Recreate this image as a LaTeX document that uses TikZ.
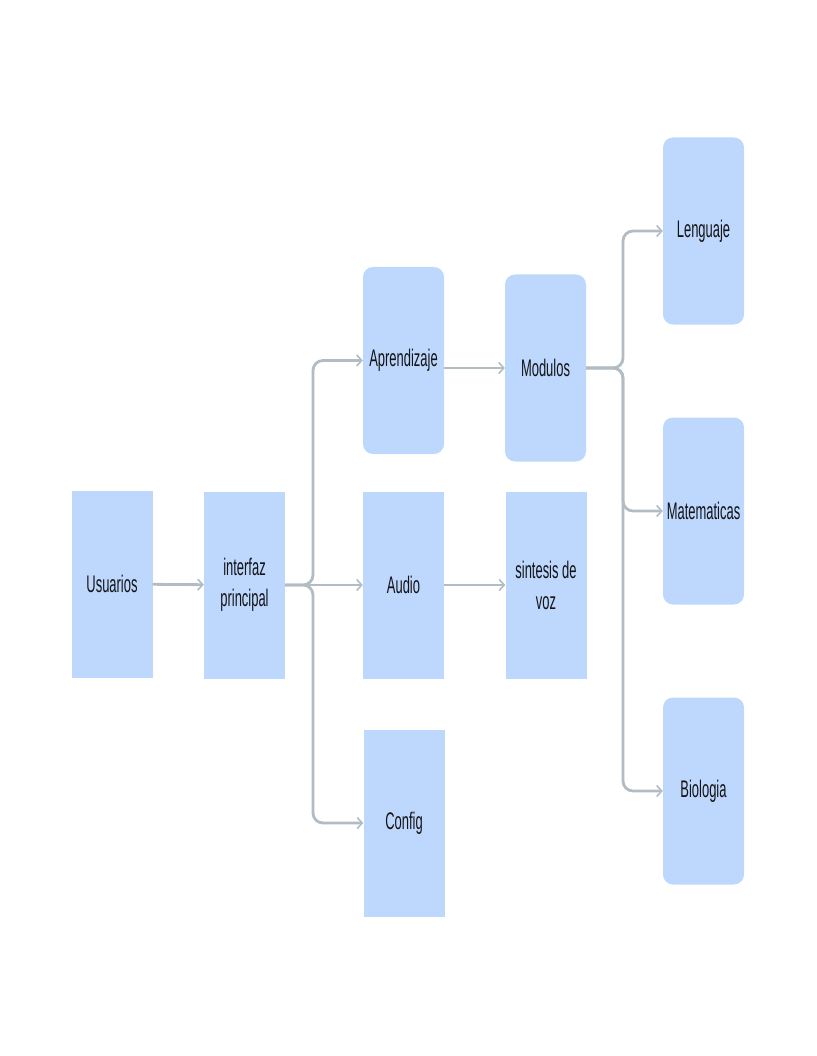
\documentclass[tikz,border=0pt]{standalone}
\usepackage{fontspec}
\newfontfamily\lblfont[FakeStretch=0.54]{Liberation Sans}
\usetikzlibrary{arrows.meta}
\definecolor{boxblue}{RGB}{189,215,253}
\definecolor{linkgray}{RGB}{178,188,195}
\definecolor{labelink}{RGB}{20,20,22}
\begin{document}
\begin{tikzpicture}[x=1pt,y=-1pt,
  box/.style={fill=boxblue, minimum width=81pt, minimum height=187pt,
    inner sep=0pt, align=center, text=labelink,
    font=\lblfont\fontsize{24}{31}\selectfont},
  roundbox/.style={box, rounded corners=10pt},
  link/.style={draw=linkgray, line width=2.8pt, rounded corners=10pt,
    -{Straight Barb[length=5pt,width=11pt,line width=1.6pt]}}]
\useasboundingbox (0,0) rectangle (816,1056);

% first column: users and the main interface
\node[box] (usr) at (112,584) {Usuarios};
\node[box] (ifz) at (244.5,585) {interfaz\\principal};

% second column: the three areas of the interface
\node[roundbox] (apr) at (403.5,360.5) {Aprendizaje};
\node[box] (aud) at (403.5,585) {Audio};
\node[box] (cfg) at (404,823) {Config};

% third column
\node[roundbox] (mod) at (545.5,368) {Modulos};
\node[box] (syn) at (546,585) {sintesis de\\voz};

% subjects
\node[roundbox] (len) at (703.5,231) {Lenguaje};
\node[roundbox] (mat) at (703.5,511) {Matematicas};
\node[roundbox] (bio) at (703.5,791) {Biologia};

% branching points
\coordinate (fork1) at (313,585);
\coordinate (fork2) at (623,368);

% connectors
\draw[link] (usr) -- (ifz);
\draw[link] (ifz.east) -- (fork1) |- (apr.west);
\draw[link] (ifz) -- (aud);
\draw[link] (ifz.east) -- (fork1) |- (cfg.west);
\draw[link] (apr.east |- mod.west) -- (mod.west);
\draw[link] (aud) -- (syn);
\draw[link] (mod.east) -- (fork2) |- (len.west);
\draw[link] (mod.east) -- (fork2) |- (mat.west);
\draw[link] (mod.east) -- (fork2) |- (bio.west);
\end{tikzpicture}
\end{document}
